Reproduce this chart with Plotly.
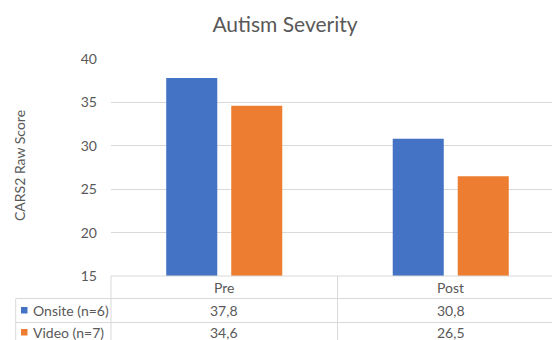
import plotly.graph_objects as go

# Data
categories = ["Pre", "Post"]
series_names = ["Onsite (n=6)", "Video (n=7)"]
onsite = [37.8, 30.8]
video = [34.6, 26.5]
series_values = [onsite, video]
series_colors = ["#4472C4", "#ED7D31"]

W, H = 552, 340
L, T, B = 111, 59, 64          # plot margins in pixels
PLOT_W = W - L
PLOT_H = H - T - B
CAT_PX = 226.5                  # pixel width of one category slot

TEXT = "#595959"
GRID = "#d9d9d9"
FONT = "Lato"


def fmt(v):
    return f"{v:.1f}".replace(".", ",")


def py(p):
    """pixel row -> paper y"""
    return (H - B - p) / PLOT_H


def px(p):
    """pixel column -> paper x"""
    return (p - L) / PLOT_W


xpos = list(range(len(categories)))

fig = go.Figure()
for name, vals, col in zip(series_names, series_values, series_colors):
    fig.add_trace(go.Bar(x=xpos, y=vals, name=name, marker_color=col,
                         marker_line_width=0, hoverinfo="y+name"))

x_hi = -0.5 + PLOT_W / CAT_PX

fig.update_layout(
    width=W, height=H,
    margin=dict(l=L, r=0, t=T, b=B, pad=0),
    paper_bgcolor="white", plot_bgcolor="white",
    barmode="group", bargap=0.426, bargroupgap=0.215,
    showlegend=False,
    font=dict(family=FONT, size=14, color=TEXT),
    title=dict(text="Autism Severity", x=285 / W, xanchor="center",
               y=1 - 25 / H, yanchor="middle",
               font=dict(family=FONT, size=21, color=TEXT)),
    xaxis=dict(range=[-0.5, x_hi], showticklabels=False, showgrid=False,
               zeroline=False, showline=False, fixedrange=True),
    yaxis=dict(range=[15, 40], dtick=5, tick0=15, showgrid=True, gridcolor=GRID,
               gridwidth=1, zeroline=False, showline=False, ticks="",
               ticklabelstandoff=13,
               tickfont=dict(family=FONT, size=14, color=TEXT)),
)

# Data table below the plot
row_tops = [H - B, 298.5, 322.5]
row_centers = [287, 310, 332]
line = dict(color=GRID, width=1)
shapes = []
# horizontal borders
shapes.append(dict(type="line", xref="paper", yref="paper", x0=0, x1=1,
                   y0=py(row_tops[0]), y1=py(row_tops[0]), line=line))
for rt in row_tops[1:]:
    shapes.append(dict(type="line", xref="paper", yref="paper", x0=px(15.7), x1=1,
                       y0=py(rt), y1=py(rt), line=line))
# vertical borders
bottom = py(H + 5)
shapes.append(dict(type="line", xref="paper", yref="paper", x0=0, x1=0,
                   y0=py(row_tops[0]), y1=bottom, line=line))
for i in range(len(categories)):
    shapes.append(dict(type="line", xref="x", yref="paper", x0=i + 0.5, x1=i + 0.5,
                       y0=py(row_tops[0]), y1=bottom, line=line))
shapes.append(dict(type="line", xref="paper", yref="paper", x0=px(15.7), x1=px(15.7),
                   y0=py(row_tops[1]), y1=bottom, line=line))

annotations = []
# y-axis title
annotations.append(dict(text="CARS2 Raw Score", xref="paper", yref="paper",
                        x=px(19), y=py(166), textangle=-90, showarrow=False,
                        xanchor="center", yanchor="middle",
                        font=dict(family=FONT, size=14, color=TEXT)))
# category header
for i, c in enumerate(categories):
    annotations.append(dict(text=c, xref="x", yref="paper", x=i, y=py(row_centers[0]),
                            showarrow=False, xanchor="center", yanchor="middle",
                            font=dict(family=FONT, size=14, color=TEXT)))
# series rows
for r, (name, vals, col) in enumerate(zip(series_names, series_values, series_colors)):
    cy = row_centers[r + 1]
    shapes.append(dict(type="rect", xref="paper", yref="paper",
                       x0=px(21), x1=px(27.5), y0=py(cy - 3), y1=py(cy + 3.5),
                       fillcolor=col, line=dict(width=0)))
    annotations.append(dict(text=name, xref="paper", yref="paper", x=px(31),
                            y=py(cy), showarrow=False, xanchor="left",
                            yanchor="middle",
                            font=dict(family=FONT, size=14, color=TEXT)))
    for i, v in enumerate(vals):
        annotations.append(dict(text=fmt(v), xref="x", yref="paper", x=i, y=py(cy),
                                showarrow=False, xanchor="center", yanchor="middle",
                                font=dict(family=FONT, size=14, color=TEXT)))

fig.update_layout(shapes=shapes, annotations=annotations)

fig.write_html("out.html")
